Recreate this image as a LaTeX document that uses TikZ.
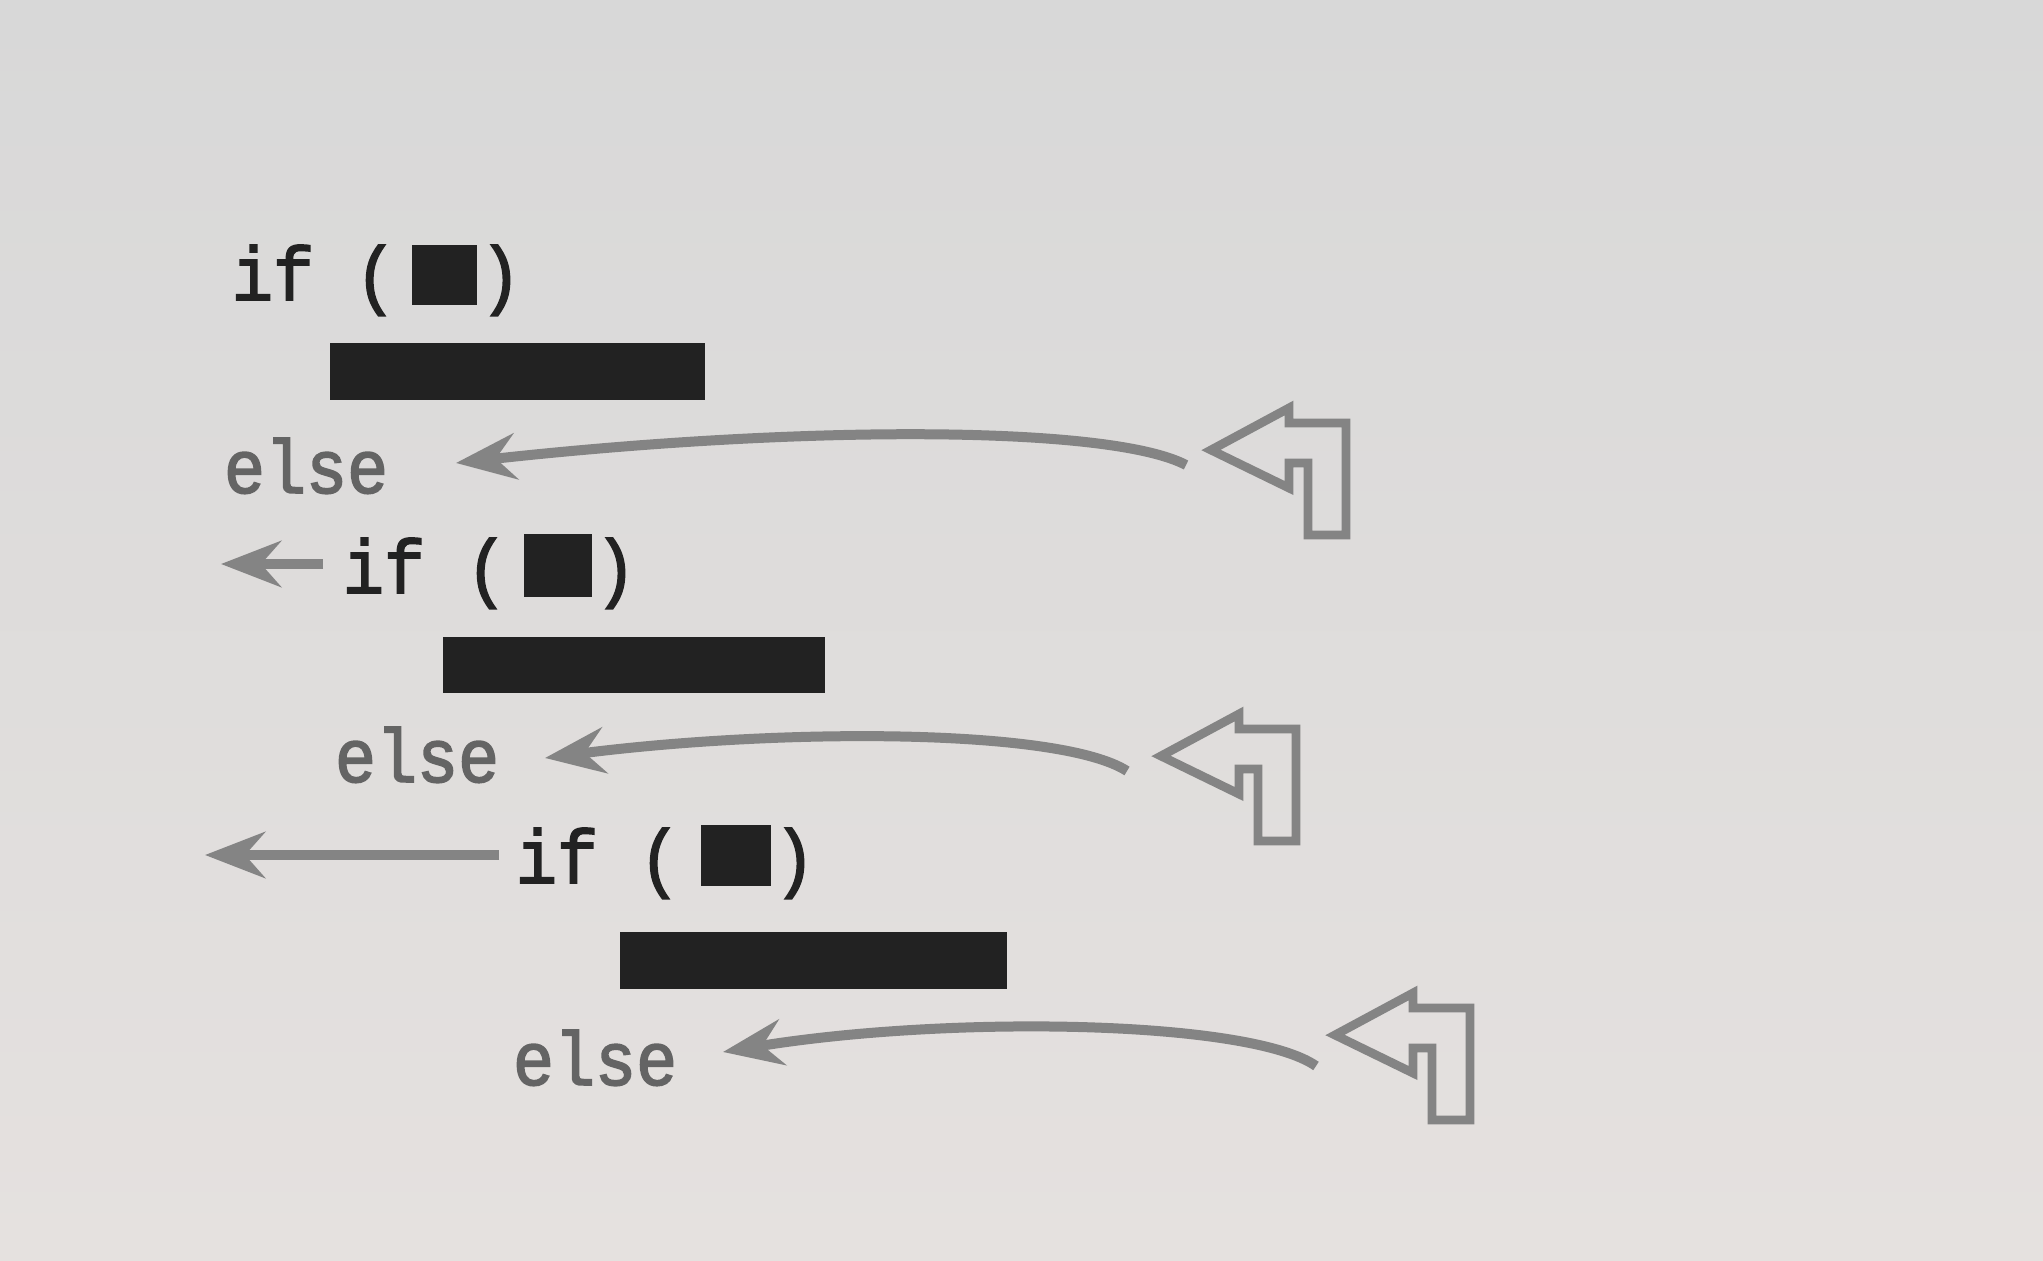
\documentclass[tikz,border=0pt]{standalone}
\usepackage{fontspec}
\newfontfamily\codefont[FakeStretch=0.9, FakeBold=2.2]{Liberation Mono}
\usetikzlibrary{arrows.meta}
\definecolor{papertop}{RGB}{216,216,216}
\definecolor{paperbot}{RGB}{229,225,223}
\definecolor{inkdark}{RGB}{34,34,34}
\definecolor{inkgray}{RGB}{100,100,100}
\definecolor{arrowgray}{RGB}{132,132,132}
\tikzset{
  codetext/.style={font=\codefont\fontsize{38pt}{40pt}\selectfont, inner sep=0pt, outer sep=0pt, anchor=base west},
  iftext/.style={codetext, text=inkdark},
  elsetext/.style={codetext, text=inkgray},
  blank/.style={fill=inkdark},
  pointer/.style={draw=arrowgray, line width=5pt, -{Stealth[length=30pt, width=23pt, inset=10pt]}},
  turnshape/.style={draw=arrowgray, line width=4.4pt, line join=miter},
  turnarrow/.pic={\draw[turnshape] (0,0) -- (78,-42) -- (78,-27) -- (135,-27) -- (135,85) -- (97,85) -- (97,13) -- (78,13) -- (78,38) -- cycle;}
}
\begin{document}
\begin{tikzpicture}[x=0.5pt, y=-0.5pt]
\useasboundingbox (0,0) rectangle (2043,1261);
\shade[top color=papertop, bottom color=paperbot] (0,0) rectangle (2043,1261);

% line 1
\node[iftext] (if1) at (232,300) {if (};
\fill[blank] (412,245) rectangle (477,305);
\node[iftext] (cl1) at (480,300) {)};
\fill[blank] (330,343) rectangle (705,400);
\node[elsetext] (else1) at (224,493) {else};
\coordinate (s1) at (1186,465);
\coordinate (t1) at (456,463);
\draw[pointer] (s1) .. controls (1110,425) and (800,425) .. (t1);
\pic at (1211,450) {turnarrow};

% line 2
\coordinate (a2s) at (323,564);
\coordinate (a2t) at (221,564);
\draw[pointer] (a2s) -- (a2t);
\node[iftext] (if2) at (343,593) {if (};
\fill[blank] (524,534) rectangle (592,597);
\node[iftext] (cl2) at (595,593) {)};
\fill[blank] (443,637) rectangle (825,693);
\node[elsetext] (else2) at (335,782) {else};
\coordinate (s2) at (1127,771);
\coordinate (t2) at (545,758);
\draw[pointer] (s2) .. controls (1060,728) and (780,728) .. (t2);
\pic at (1161,756) {turnarrow};

% line 3
\coordinate (a3s) at (499,855);
\coordinate (a3t) at (205,855);
\draw[pointer] (a3s) -- (a3t);
\node[iftext] (if3) at (516,883) {if (};
\fill[blank] (701,825) rectangle (771,886);
\node[iftext] (cl3) at (774,883) {)};
\fill[blank] (620,932) rectangle (1007,989);
\node[elsetext] (else3) at (513,1085) {else};
\coordinate (s3) at (1316,1066);
\coordinate (t3) at (723,1052);
\draw[pointer] (s3) .. controls (1250,1020) and (950,1015) .. (t3);
\pic at (1335,1035) {turnarrow};
\end{tikzpicture}
\end{document}
